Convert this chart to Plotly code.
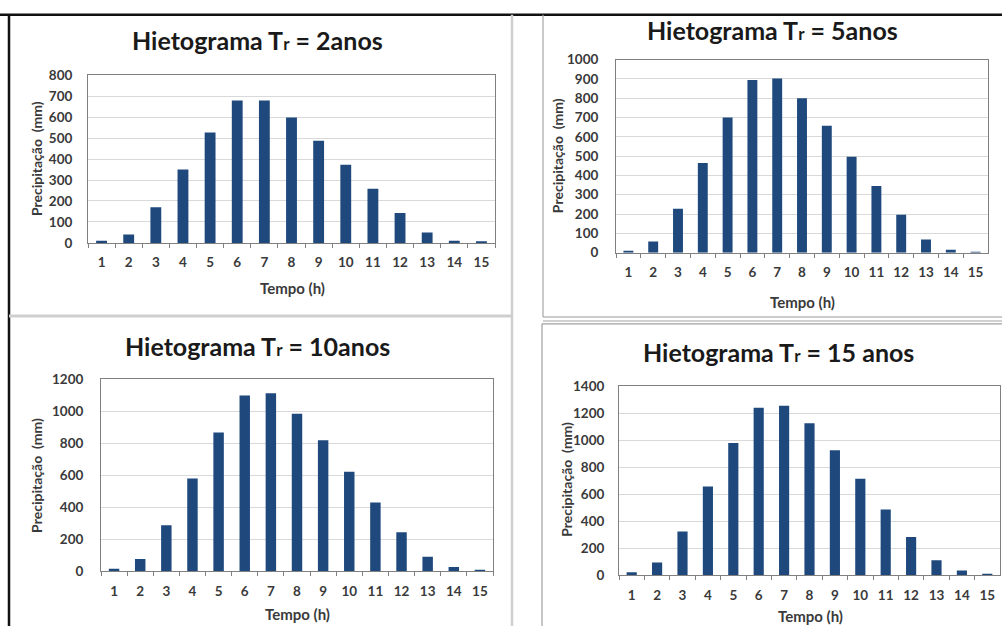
import plotly.graph_objects as go

# Hietogramas: precipitação por hora para cada tempo de retorno
horas = ["1", "2", "3", "4", "5", "6", "7", "8", "9", "10", "11", "12", "13", "14", "15"]

p_tr2 = [10, 40, 170, 350, 527, 680, 680, 598, 488, 373, 259, 143, 50, 10, 5]
p_tr5 = [8, 58, 228, 465, 700, 895, 903, 800, 657, 497, 345, 197, 68, 15, 1]
p_tr10 = [16, 78, 288, 580, 868, 1100, 1113, 985, 819, 622, 430, 245, 91, 28, 10]
p_tr15 = [22, 95, 325, 657, 979, 1241, 1256, 1126, 926, 714, 488, 284, 111, 36, 12]

titulos = ["2anos", "5anos", "10anos", "15 anos"]
y_max = [800, 1000, 1200, 1400]
y_passo = [100, 100, 200, 200]

W, H = 1002, 634
FONT = "Lato"
BAR = "#1F497D"
GRID = "#D9D9D9"
BORDA = "#808080"
TXT = "#3a3a3a"


def px(x):
    return x / W


def py(y):
    return 1 - y / H


# plot areas in pixels: (left, right, top, bottom)
areas = [
    (88, 495, 69, 241),
    (616, 988, 53, 251),
    (101, 493, 381, 578),
    (619, 1000, 388, 582),
]
# title centres, x-title centres, y-title centres, y label gap
pos_titulo = [(257, 33), (772, 23), (257, 347), (778, 353)]
pos_xtit = [(292, 287), (802, 302), (297, 622), (810, 624)]
pos_ytit = [(36, 155), (557, 152), (37, 480), (567, 484)]
gap_y = [12, 14, 14, 11]

series = [p_tr2, p_tr5, p_tr10, p_tr15]

fig = go.Figure()
layout = dict(
    width=W, height=H,
    margin=dict(l=0, r=0, t=0, b=0),
    paper_bgcolor="white",
    plot_bgcolor="white",
    showlegend=False,
    bargap=0.6,
    font=dict(family=FONT, color=TXT),
)

annotations = []
shapes = []

for i, vals in enumerate(series):
    n = "" if i == 0 else str(i + 1)
    xa, ya = "x" + n, "y" + n
    l, r, t, b = areas[i]
    fig.add_trace(go.Bar(x=horas, y=vals, xaxis=xa, yaxis=ya,
                         marker=dict(color=BAR, line=dict(width=0))))
    layout["xaxis" + n] = dict(
        domain=[px(l), px(r)], anchor=ya, type="category",
        showline=True, linecolor=BORDA, linewidth=1, mirror=True,
        ticks="outside", ticklen=4, tickcolor=BORDA, tickson="boundaries",
        ticklabelstandoff=7, tickangle=0,
        tickfont=dict(family=FONT, size=13.5, weight="bold", color=TXT),
        showgrid=False, fixedrange=True,
    )
    layout["yaxis" + n] = dict(
        domain=[py(b), py(t)], anchor=xa,
        range=[0, y_max[i]], dtick=y_passo[i], tick0=0,
        showline=True, linecolor=BORDA, linewidth=1, mirror=True,
        showgrid=True, gridcolor=GRID, gridwidth=1.2, zeroline=False,
        ticks="", ticklabelstandoff=gap_y[i],
        tickfont=dict(family=FONT, size=13.5, weight="bold", color=TXT),
        fixedrange=True,
    )
    tx, ty = pos_titulo[i]
    annotations.append(dict(
        x=px(tx), y=py(ty), xref="paper", yref="paper",
        xanchor="center", yanchor="middle", showarrow=False,
        text="<b>Hietograma T<span style='font-size:17px'>r</span> = " + titulos[i] + "</b>",
        font=dict(family=FONT, size=25, color="#1a1a1a"),
    ))
    ax, ay = pos_xtit[i]
    annotations.append(dict(
        x=px(ax), y=py(ay), xref="paper", yref="paper",
        xanchor="center", yanchor="middle", showarrow=False,
        text="<b>Tempo (h)</b>",
        font=dict(family=FONT, size=15, color=TXT),
    ))
    yx, yy = pos_ytit[i]
    annotations.append(dict(
        x=px(yx), y=py(yy), xref="paper", yref="paper",
        xanchor="center", yanchor="middle", showarrow=False, textangle=-90,
        text="<b>Precipitação\u00a0\u00a0(mm)</b>",
        font=dict(family=FONT, size=14, color=TXT),
    ))


def linha(x0, y0, x1, y1, cor, w):
    shapes.append(dict(type="line", xref="paper", yref="paper",
                       x0=px(x0), y0=py(y0), x1=px(x1), y1=py(y1),
                       line=dict(color=cor, width=w), layer="below"))


# page frame and panel separators
linha(0, 7, 1002, 7, "#111111", 2.5)
linha(9, 7, 9, 634, "#111111", 2.5)
linha(512, 7, 512, 634, "#CFCFCF", 2.5)
linha(9, 316, 512, 316, "#CFCFCF", 3)
linha(543, 7, 543, 317, "#A6A6A6", 1.2)
linha(543, 317, 1002, 317, "#9A9A9A", 1.2)
linha(543, 321, 1002, 321, "#D0D0D0", 2)
linha(542, 324, 1002, 324, "#A0A0A0", 1.2)
linha(542, 324, 542, 634, "#A0A0A0", 1.2)

layout["annotations"] = annotations
layout["shapes"] = shapes
fig.update_layout(**layout)

fig.write_html("out.html")
